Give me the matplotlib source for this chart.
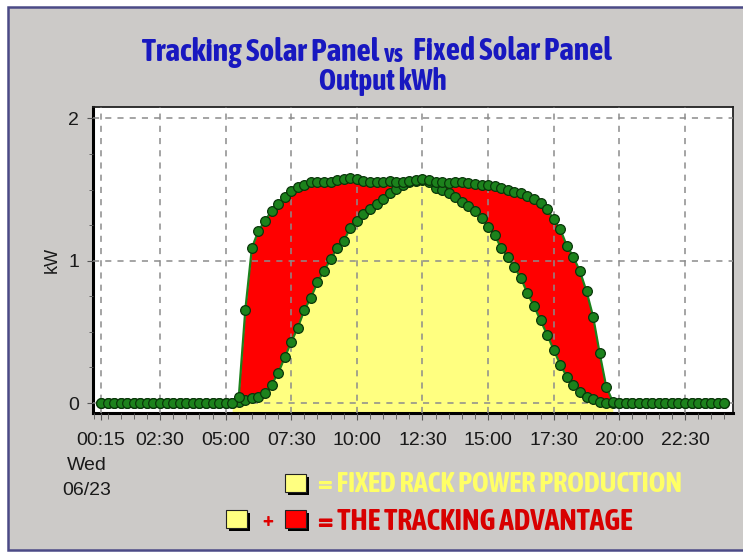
import numpy as np
import matplotlib
matplotlib.use("Agg")
import matplotlib.pyplot as plt
import matplotlib.patheffects as pe
from matplotlib import font_manager as fm
from matplotlib.patches import Rectangle
from matplotlib.ticker import MultipleLocator

# 15-minute readings, 00:15 .. 24:00
hours = np.arange(1, 97) * 0.25

tracking_kw = [0.0] * 21 + [
    0.04, 0.655, 1.09, 1.21, 1.28, 1.35, 1.40, 1.45, 1.49, 1.52,
    1.535, 1.55, 1.555, 1.555, 1.555, 1.565, 1.575, 1.58, 1.575, 1.56,
    1.55, 1.55, 1.555, 1.56, 1.55, 1.55, 1.56, 1.57, 1.575, 1.565,
    1.555, 1.55, 1.545, 1.55, 1.55, 1.545, 1.54, 1.535, 1.535, 1.525,
    1.51, 1.495, 1.48, 1.475, 1.458, 1.434, 1.406, 1.36, 1.29, 1.22,
    1.105, 1.026, 0.925, 0.784, 0.608, 0.35, 0.115, 0.01,
] + [0.0] * 17

fixed_kw = [0.0] * 21 + [
    0.01, 0.02, 0.035, 0.045, 0.07, 0.13, 0.21, 0.32, 0.43, 0.53,
    0.655, 0.74, 0.85, 0.93, 1.01, 1.09, 1.14, 1.23, 1.28, 1.325,
    1.36, 1.395, 1.435, 1.475, 1.505, 1.535, 1.55, 1.56, 1.565, 1.55,
    1.51, 1.495, 1.477, 1.45, 1.41, 1.383, 1.347, 1.30, 1.24, 1.18,
    1.09, 1.026, 0.955, 0.878, 0.77, 0.68, 0.58, 0.48, 0.373, 0.27,
    0.185, 0.127, 0.08, 0.044, 0.026, 0.01, 0.0, 0.0,
] + [0.0] * 17

tick_hours = [0.25, 2.5, 5.0, 7.5, 10.0, 12.5, 15.0, 17.5, 20.0, 22.5]
tick_labels = ["00:15", "02:30", "05:00", "07:30", "10:00",
               "12:30", "15:00", "17:30", "20:00", "22:30"]

tracking = np.array(tracking_kw)
fixed = np.array(fixed_kw)


def is_bold(f):
    w = f.weight
    if isinstance(w, str):
        w = fm.weight_dict.get(w, 400)
    return w >= 600


# narrow bold face if there is one; otherwise fake the bold with a stroke
narrow_faces = [f for f in fm.fontManager.ttflist
                if "Narrow" in f.name or "Condensed" in f.name]
bold_faces = sorted({f.name for f in narrow_faces if is_bold(f)})
if bold_faces:
    narrow = [bold_faces[0], "DejaVu Sans"]
    fake_bold = False
elif narrow_faces:
    narrow = [sorted({f.name for f in narrow_faces})[0], "DejaVu Sans"]
    fake_bold = True
else:
    narrow = ["Liberation Sans", "DejaVu Sans"]
    fake_bold = False
plain = ["Liberation Sans", "DejaVu Sans"]

W, H = 743, 556
fig = plt.figure(figsize=(W / 100, H / 100), dpi=100)
fig.patch.set_facecolor("white")

# grey panel with dark border
fig.patches.append(Rectangle((8 / W, 6 / H), 1 - 8 / W + 0.01, 1 - 13 / H,
                             transform=fig.transFigure, facecolor="#CCCAC8",
                             edgecolor="#4B4A86", linewidth=1.8, zorder=-5))

ax = fig.add_axes([93 / W, 1 - 413 / H, 640 / W, 306 / H])
ax.set_zorder(2)
ax.set_facecolor("white")
ybot, ytop = -0.07, 2.08
ax.set_xlim(-0.053, 24.33)
ax.set_ylim(ybot, ytop)

green = "#1C821C"
edge = "#0A360A"

# yellow area goes down to the bottom of the plot while the day is on
on = (tracking > 0) | np.r_[tracking[1:] > 0, False]
ax.fill_between(hours, ybot, fixed, where=on, color="#FFFF80", lw=0, zorder=1)
ax.fill_between(hours, fixed, tracking, color="#FF0000", lw=0, zorder=1.2)

ax.grid(True, which="major", color="#8C8C8C", linestyle=(0, (4, 4)), lw=1.1)
ax.set_axisbelow(False)
for gl in ax.get_xgridlines() + ax.get_ygridlines():
    gl.set_zorder(1.5)

for vals in (fixed, tracking):
    ax.plot(hours, vals, color=green, lw=1.6, zorder=3,
            marker="o", markersize=7, markerfacecolor=green,
            markeredgecolor=edge, markeredgewidth=0.9)

ax.set_xticks(tick_hours)
ax.set_xticklabels(tick_labels)
ax.xaxis.set_minor_locator(MultipleLocator(0.5))
ax.set_yticks([0, 1, 2])
ax.yaxis.set_minor_locator(MultipleLocator(0.25))
ax.tick_params(axis="both", which="both", direction="out", color="#555555",
               labelsize=14, labelcolor="#1a1a1a")
ax.tick_params(axis="x", which="major", length=5, pad=9)
ax.tick_params(axis="x", which="minor", length=4)
ax.tick_params(axis="y", which="major", length=4, pad=6)
ax.tick_params(axis="y", which="minor", length=3)
for lab in ax.get_xticklabels() + ax.get_yticklabels():
    lab.set_family(plain)

ax.set_ylabel("kW", fontsize=13, color="#1a1a1a", family=plain)
ax.yaxis.set_label_coords(-0.05, 0.5)

for side in ("left", "bottom"):
    ax.spines[side].set_linewidth(2.2)
    ax.spines[side].set_color("black")
for side in ("top", "right"):
    ax.spines[side].set_linewidth(1.3)
    ax.spines[side].set_color("#222222")

blue = "#1818C0"
renderer = fig.canvas.get_renderer()


def px(x, y):
    return x / W, 1 - y / H


def fit_text(x, y, s, width, size, color, **kw):
    # size the font so the text spans about `width` pixels
    t = fig.text(*px(x, y), s, fontsize=size, fontweight="bold",
                 family=narrow, va="center", color=color, **kw)
    if fake_bold:
        t.set_path_effects([pe.withStroke(linewidth=1.1, foreground=color)])
    w = t.get_window_extent(renderer).width
    t.set_fontsize(size * width / w)
    return t


fit_text(379, 52, "Tracking Solar Panel", 237, 16, blue, ha="right")
fit_text(394, 54, "vs", 20, 12, blue, ha="center")
fit_text(413, 52, "Fixed Solar Panel", 198, 16, blue, ha="left")
fit_text(383, 81, "Output kWh", 128, 16, blue, ha="center")

fig.text(*px(87, 478), "Wed\n06/23", ha="center", va="center",
         fontsize=14, color="#1a1a1a", linespacing=1.55, family=plain)


def swatch(x, y, color):
    fig.patches.append(Rectangle(px(x + 3, y + 21), 21 / W, 18 / H,
                                 transform=fig.transFigure,
                                 facecolor="black", lw=0, zorder=2))
    fig.patches.append(Rectangle(px(x, y + 18), 21 / W, 18 / H,
                                 transform=fig.transFigure,
                                 facecolor=color, edgecolor="#222222",
                                 lw=0.8, zorder=3))


swatch(285, 474, "#FFFF80")
fit_text(318, 485, "= FIXED RACK POWER PRODUCTION", 365, 15, "#FFFF66",
         ha="left")

swatch(226, 510, "#FFFF80")
fig.text(*px(268, 520), "+", ha="center", va="center", fontsize=15,
         fontweight="bold", color="#E00000", family=narrow)
swatch(285, 510, "#FF0000")
fit_text(318, 522, "= THE TRACKING ADVANTAGE", 314, 15, "#D80000",
         ha="left")

fig.savefig("out.png", dpi=100, facecolor=fig.get_facecolor())
